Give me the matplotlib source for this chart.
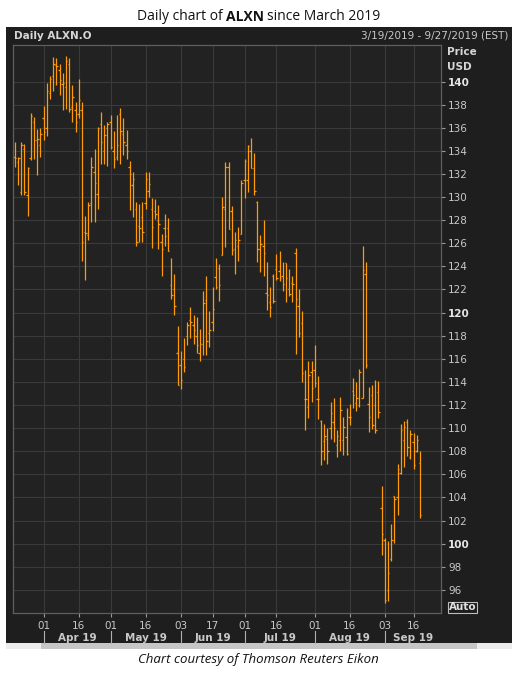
import matplotlib
matplotlib.use("Agg")
import matplotlib.pyplot as plt
from matplotlib.patches import Rectangle
import numpy as np

W, H = 517, 675

# trading-day index of the first bar, counted from 01 Apr 2019 (= 0)
first_day = -9   # 19 Mar 2019

highs = [134.8, 133.5, 134.8, 134.6, 132.6, 137.3, 136.9, 135.9, 136.0, 137.9,
         139.9, 140.5, 142.1, 142.0, 141.5, 140.7, 142.2, 142.0, 139.7, 138.2,
         140.2, 138.2, 128.4, 129.6, 133.5, 134.2, 136.1, 137.4, 136.2, 136.5,
         137.1, 135.7, 137.1, 137.7, 136.8, 135.8, 133.1, 132.2, 129.6, 129.4,
         129.6, 132.2, 132.2, 129.9, 129.8, 129.3, 126.8, 128.5, 128.2, 124.7,
         123.3, 118.8, 116.7, 117.8, 119.2, 120.5, 119.8, 119.6, 118.6, 121.9,
         123.2, 120.1, 122.2, 124.7, 124.2, 130.0, 133.0, 133.0, 129.2, 127.0,
         127.4, 131.5, 133.3, 134.5, 135.1, 133.8, 129.7, 126.7, 128.0, 124.4,
         122.2, 123.3, 125.1, 125.3, 124.4, 124.3, 123.8, 123.2, 125.6, 122.0,
         120.1, 115.0, 115.8, 115.8, 117.2, 114.5, 110.7, 110.4, 110.0, 112.3,
         112.6, 109.8, 112.7, 111.0, 111.7, 112.1, 114.3, 114.0, 115.1, 125.8,
         124.4, 113.6, 113.7, 114.2, 114.1, 105.0, 100.5, 100.2, 101.7, 104.1,
         106.9, 110.4, 110.6, 110.8, 109.8, 109.6, 109.4, 108.0]
lows = [132.6, 131.0, 130.2, 130.2, 128.4, 133.2, 133.3, 131.9, 133.5, 134.9,
        135.3, 138.5, 139.2, 139.7, 138.8, 137.5, 137.6, 137.4, 136.5, 135.6,
        136.8, 124.5, 122.8, 126.3, 127.8, 127.8, 129.0, 132.9, 132.9, 132.7,
        134.2, 132.5, 133.2, 132.9, 133.6, 133.3, 128.9, 128.3, 125.8, 126.1,
        126.1, 129.0, 130.0, 125.6, 128.1, 125.5, 123.2, 125.8, 125.3, 121.2,
        119.8, 113.7, 113.4, 114.9, 117.2, 117.8, 117.3, 116.5, 115.8, 116.3,
        116.3, 117.0, 118.4, 122.0, 121.0, 125.0, 125.7, 127.2, 125.0, 123.3,
        124.5, 126.8, 129.9, 130.4, 132.5, 130.2, 124.4, 123.5, 123.2, 120.2,
        119.6, 120.8, 122.8, 122.7, 121.9, 120.9, 121.4, 120.9, 116.4, 117.9,
        114.0, 109.8, 110.9, 112.3, 113.6, 110.8, 106.8, 107.2, 106.9, 109.1,
        108.8, 107.5, 108.0, 107.7, 107.7, 110.3, 111.7, 111.5, 111.8, 112.6,
        115.2, 109.7, 109.9, 109.6, 110.9, 99.0, 94.9, 95.0, 98.5, 100.1,
        102.5, 106.0, 106.6, 107.6, 107.3, 106.5, 107.9, 102.2]
opens = [133.5, 133.0, 130.4, 134.2, 130.2, 133.4, 136.5, 134.9, 134.5, 136.8,
         136.0, 139.0, 140.5, 141.4, 141.0, 139.8, 139.5, 141.5, 137.8, 137.5,
         137.2, 137.5, 127.0, 126.7, 129.5, 132.2, 130.3, 136.3, 134.0, 136.0,
         136.5, 134.0, 133.5, 137.2, 135.5, 134.5, 132.6, 131.0, 129.0, 127.5,
         128.3, 129.5, 130.5, 129.0, 128.8, 128.0, 126.1, 127.3, 127.3, 122.4,
         122.0, 116.5, 115.5, 116.0, 118.0, 119.4, 118.9, 118.0, 116.5, 117.3,
         121.1, 118.2, 119.2, 123.1, 123.9, 125.0, 129.0, 132.6, 128.8, 125.5,
         125.8, 126.8, 131.5, 131.5, 134.0, 132.5, 129.6, 125.5, 125.8, 121.7,
         120.9, 123.2, 123.8, 123.6, 123.2, 124.3, 122.0, 122.6, 125.2, 120.6,
         119.1, 112.5, 111.8, 114.9, 115.0, 112.5, 110.6, 108.9, 109.1, 110.0,
         110.5, 108.5, 109.0, 109.0, 109.2, 111.0, 113.2, 112.2, 112.0, 112.6,
         123.3, 112.1, 112.9, 112.0, 113.1, 103.1, 100.3, 96.0, 98.7, 104.1,
         104.0, 106.1, 109.0, 110.5, 107.5, 108.8, 108.0, 107.0]
closes = [133.4, 133.4, 134.5, 130.4, 132.5, 137.0, 134.9, 135.0, 135.5, 135.6,
          139.2, 140.2, 141.5, 141.3, 140.1, 139.9, 141.8, 137.6, 138.7, 136.5,
          138.4, 126.1, 126.9, 129.3, 132.6, 131.2, 136.0, 134.8, 135.4, 136.3,
          134.3, 133.3, 134.5, 135.7, 134.8, 134.0, 132.0, 131.6, 126.1, 127.3,
          127.0, 131.6, 131.1, 127.4, 128.5, 127.7, 125.5, 126.6, 125.3, 121.5,
          120.6, 113.7, 114.2, 115.3, 118.9, 119.2, 118.5, 117.2, 117.3, 120.8,
          117.5, 118.5, 120.3, 122.2, 122.4, 129.1, 132.6, 127.2, 125.4, 126.3,
          126.3, 131.2, 133.1, 134.4, 132.5, 130.5, 125.5, 125.9, 125.2, 121.5,
          120.5, 121.0, 123.0, 123.0, 122.5, 123.0, 121.6, 122.5, 121.2, 118.2,
          114.8, 112.5, 114.6, 113.5, 113.9, 112.5, 108.0, 109.3, 108.0, 111.3,
          110.0, 109.3, 111.6, 110.1, 107.8, 111.0, 112.9, 112.6, 114.9, 123.7,
          115.5, 111.0, 110.3, 109.8, 111.4, 100.8, 95.1, 97.5, 100.3, 103.9,
          106.5, 109.8, 110.1, 108.4, 109.5, 106.8, 109.0, 102.5]

day_ticks = [0, 11, 21, 32, 43, 53, 63, 73, 85, 96, 107, 116]
day_labels = ["01", "16", "01", "16", "03", "17", "01", "16", "01", "16", "03", "16"]
month_starts = [0, 21, 43, 63, 85, 107]
month_labels = ["Apr 19", "May 19", "Jun 19", "Jul 19", "Aug 19", "Sep 19"]
price_ticks = list(range(96, 141, 2))

ORANGE = "#ff9b0a"
TXT = "#c8c8c8"
x_lo, x_hi = -9.6, 124.6
y_lo, y_hi = 94.0, 143.16

fig = plt.figure(figsize=(W / 100, H / 100), dpi=100)
fig.patch.set_facecolor("white")

# pixel-space layer for the frame decorations
deco = fig.add_axes([0, 0, 1, 1], zorder=0)
deco.set_xlim(0, W)
deco.set_ylim(H, 0)
deco.axis("off")
deco.add_patch(Rectangle((6, 27), 506, 616, facecolor="#1e1e1e", edgecolor="none"))
deco.add_patch(Rectangle((6, 643), 506, 6, facecolor="#ececec", edgecolor="none"))
deco.add_patch(Rectangle((41, 643), 436, 6, facecolor="#c6c6c6", edgecolor="none"))

deco.text(14, 36, "Daily ALXN.O", color="#d6d6d6", fontsize=7.5, fontweight="bold",
          family="DejaVu Sans", ha="left", va="center")
deco.text(508, 36, "3/19/2019 - 9/27/2019 (EST)", color=TXT, fontsize=7.5,
          family="DejaVu Sans", ha="right", va="center")
deco.text(447, 52, "Price", color="#d6d6d6", fontsize=7.5, fontweight="bold",
          family="DejaVu Sans", ha="left", va="center")
deco.text(447, 67, "USD", color="#d6d6d6", fontsize=7.5, fontweight="bold",
          family="DejaVu Sans", ha="left", va="center")
deco.add_patch(Rectangle((448, 602), 29, 11, facecolor="none", edgecolor="#bdbdbd", lw=0.8))
deco.text(462.5, 607.5, "Auto", color="#e0e0e0", fontsize=7.5, fontweight="bold",
          family="DejaVu Sans", ha="center", va="center")

# title with a bold ticker in the middle
renderer = fig.canvas.get_renderer()
parts = [("Daily chart of", "normal"), ("ALXN", "bold"), ("since March 2019", "normal")]
tfont = dict(family="Open Sans", fontsize=10, color="#111111", va="center", ha="left")
texts = [deco.text(0, 17, s, fontweight=w, **tfont) for s, w in parts]
sp = 3.0
widths = [t.get_window_extent(renderer).width for t in texts]
total = sum(widths) + sp * 2
xpos = 258.5 - total / 2
for t, w in zip(texts, widths):
    t.set_x(xpos)
    xpos += w + sp

deco.text(258.5, 660, "Chart courtesy of Thomson Reuters Eikon", family="Open Sans",
          style="italic", fontsize=9.5, color="#111111", ha="center", va="center")

# price panel
ax = fig.add_axes([13 / W, 1 - 613 / H, (441 - 13) / W, (613 - 45) / H], zorder=1)
ax.set_facecolor("#222222")
idx = np.arange(first_day, first_day + len(highs))
ax.vlines(idx, lows, highs, color=ORANGE, lw=0.9)
ax.hlines(opens, idx - 0.45, idx, color=ORANGE, lw=0.9)
ax.hlines(closes, idx, idx + 0.45, color=ORANGE, lw=0.9)

ax.set_xlim(x_lo, x_hi)
ax.set_ylim(y_lo, y_hi)
ax.set_xticks(day_ticks)
ax.set_xticklabels(day_labels)
ax.set_yticks(price_ticks)
ax.grid(True, color="#3a3a3a", lw=0.8)
ax.set_axisbelow(True)
for s in ax.spines.values():
    s.set_color("#5e5e5e")
    s.set_linewidth(0.9)

ax.yaxis.tick_right()
ax.tick_params(axis="y", length=3, width=0.8, color="#9a9a9a", labelcolor=TXT,
               labelsize=7.5, pad=2)
ax.tick_params(axis="x", length=3, width=0.8, color="#9a9a9a", labelcolor=TXT,
               labelsize=7.5, pad=2.5)
for lbl, v in zip(ax.get_yticklabels(), price_ticks):
    lbl.set_family("DejaVu Sans")
    if v % 20 == 0:
        lbl.set_fontweight("bold")
        lbl.set_color("#e6e6e6")
for lbl in ax.get_xticklabels():
    lbl.set_family("DejaVu Sans")

# month row below the day labels
xt = ax.get_xaxis_transform()
ends = month_starts[1:] + [x_hi]
for start, end, name in zip(month_starts, ends, month_labels):
    ax.plot([start, start], [-0.032, -0.053], transform=xt, color="#b0b0b0",
            lw=0.8, clip_on=False)
    ax.text((start + end) / 2, -0.044, name, transform=xt, color=TXT, fontsize=7.5,
            fontweight="bold", family="DejaVu Sans", ha="center", va="center")

fig.savefig("out.png", dpi=100, facecolor="white")
